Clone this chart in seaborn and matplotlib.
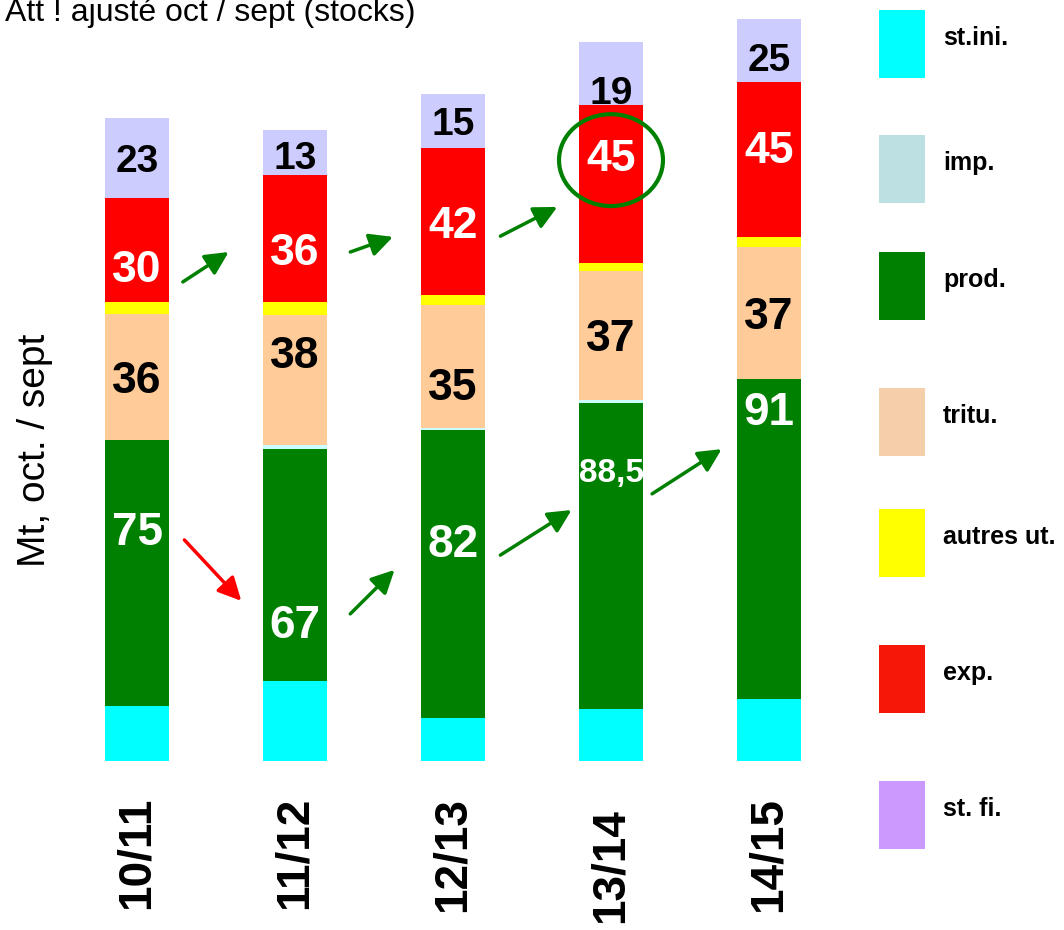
import matplotlib
matplotlib.use("Agg")
import matplotlib.pyplot as plt
from matplotlib.patches import Ellipse, Rectangle
from matplotlib import font_manager
import pandas as pd
import seaborn as sns

# Bilan par campagne (Mt, oct. / sept)
campaigns = ["10/11", "11/12", "12/13", "13/14", "14/15"]
st_ini = [15.6, 22.7, 12.2, 14.8, 17.6]
imp = [0.0, 1.1, 0.6, 0.9, 0.0]
prod = [75.6, 65.9, 81.8, 86.9, 90.9]
tritu = [35.8, 36.9, 34.9, 36.6, 37.5]
autres_ut = [3.4, 3.7, 2.8, 2.3, 2.8]
exp = [29.5, 36.1, 41.8, 44.9, 44.0]
st_fi = [22.7, 12.8, 15.3, 17.9, 17.9]

# values written on the bars
prod_labels = ["75", "67", "82", "88,5", "91"]
tritu_labels = ["36", "38", "35", "37", "37"]
exp_labels = ["30", "36", "42", "45", "45"]
st_fi_labels = ["23", "13", "15", "19", "25"]

series_names = ["st.ini.", "imp.", "prod.", "tritu.", "autres ut.", "exp.", "st. fi."]
series_values = [st_ini, imp, prod, tritu, autres_ut, exp, st_fi]
bar_colors = dict(zip(series_names, ["#00ffff", "#ccffff", "#008000", "#ffcc99",
                                     "#ffff00", "#ff0000", "#ccccff"]))
legend_colors = ["#00ffff", "#bde0e3", "#008000", "#f5cfaa", "#ffff00", "#f71708", "#cc99ff"]
# on the slide the imports sit between production and crushing
stack_order = ["st.ini.", "prod.", "imp.", "tritu.", "autres ut.", "exp.", "st. fi."]

W, H = 1064, 930


def fx(p):
    return p / W


def fy(p):
    return 1 - p / H


sns.set_style("white")
plt.rcParams["font.family"] = ["Liberation Sans", "DejaVu Sans"]
plt.rcParams["text.color"] = "black"
installed = {f.name for f in font_manager.fontManager.ttflist}
narrow = "Liberation Sans Narrow" if "Liberation Sans Narrow" in installed else "Liberation Sans"

df = pd.DataFrame({"campagne": campaigns})
for name, vals in zip(series_names, series_values):
    df[name] = vals
cum = df[stack_order].cumsum(axis=1)

fig = plt.figure(figsize=(W / 100, H / 100), dpi=100)
ax = fig.add_axes([fx(58), fy(761), fx(848) - fx(58), 761 / H])

# stacked bars: draw cumulative totals from the top layer down
for name in reversed(stack_order):
    sns.barplot(x=df["campagne"], y=cum[name], color=bar_colors[name], saturation=1,
                width=0.405, linewidth=0, errorbar=None, ax=ax)

ax.set_xlim(-0.5, 4.5)
ax.set_ylim(0, 761 / 3.52)
ax.axis("off")

# value labels inside segments (position = fraction of the segment height)
prod_pos = [0.67, 0.26, 0.62, 0.78, 0.91]
tritu_pos = [0.5, 0.72, 0.36, 0.5, 0.5]
exp_pos = [0.35, 0.42, 0.5, 0.68, 0.58]
st_fi_pos = [0.5, 0.45, 0.5, 0.24, 0.4]

label_sets = [
    ("prod.", prod_labels, prod_pos, "white", 33),
    ("tritu.", tritu_labels, tritu_pos, "black", 32),
    ("exp.", exp_labels, exp_pos, "white", 32),
    ("st. fi.", st_fi_labels, st_fi_pos, "black", 28),
]
for name, labels, pos, tcol, size in label_sets:
    for i, lab in enumerate(labels):
        top = cum[name].iloc[i]
        seg = df[name].iloc[i]
        y = top - seg + seg * pos[i]
        if "," in lab:
            ax.text(i, y, lab, ha="center", va="center_baseline", color=tcol,
                    fontsize=24, fontweight="bold", family=[narrow, "DejaVu Sans"])
        else:
            ax.text(i, y, lab, ha="center", va="center_baseline", color=tcol,
                    fontsize=size, fontweight="bold")

# arrows (data units)
arrows = [
    ((0.29, 136.1), (0.58, 144.6), "green"),
    ((1.35, 144.6), (1.62, 148.9), "green"),
    ((2.30, 149.1), (2.66, 157.4), "green"),
    ((0.30, 62.8), (0.66, 45.5), "red"),
    ((1.35, 41.8), (1.63, 54.3), "green"),
    ((2.30, 58.5), (2.75, 71.3), "green"),
    ((3.26, 75.9), (3.70, 88.6), "green"),
]
for start, end, col in arrows:
    ax.annotate("", xy=end, xytext=start,
                arrowprops=dict(arrowstyle="-|>,head_length=0.7,head_width=0.35",
                                color=col, lw=2.5, shrinkA=0, shrinkB=0,
                                mutation_scale=20),
                annotation_clip=False)

ax.add_patch(Ellipse((3, 170.7), 0.658, 26.1, fill=False, edgecolor="green",
                     lw=3, clip_on=False))

# category labels under bars
cat_tops = [797, 797, 797, 808, 797]
for i, lab in enumerate(campaigns):
    fig.text(fx(58 + 79 + 158 * i), fy(cat_tops[i]), lab, rotation=90,
             ha="center", va="top", fontsize=33, fontweight="bold")

fig.text(fx(5), fy(21), "Att ! ajusté oct / sept (stocks)", ha="left",
         va="baseline", fontsize=23)
fig.text(fx(35), fy(450), "Mt, oct. / sept", rotation=90, ha="center",
         va="center", fontsize=28)

# legend drawn by hand
leg_tops = [10, 135, 252, 388, 509, 645, 781]
for name, col, top in zip(series_names, legend_colors, leg_tops):
    fig.add_artist(Rectangle((fx(879), fy(top + 68)), 46 / W, 68 / H,
                             transform=fig.transFigure, color=col, lw=0))
    fig.text(fx(943), fy(top + 28), name, ha="left", va="center",
             fontsize=18, fontweight="bold")

fig.savefig("out.png", dpi=100)
